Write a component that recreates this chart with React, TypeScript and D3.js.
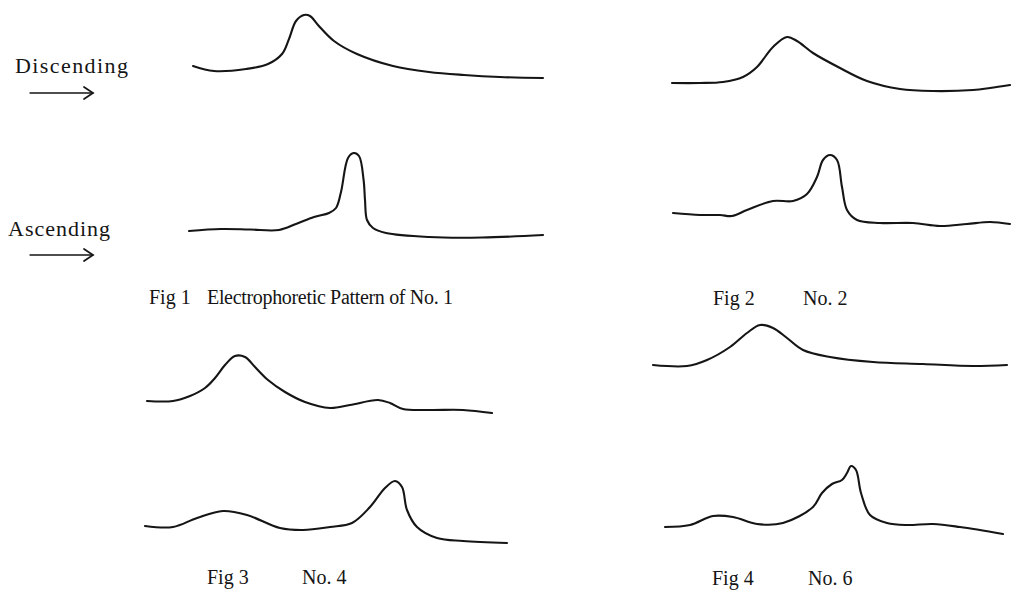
import React from 'react';
import * as d3 from 'd3';

// Migration distance (arbitrary units) and refractive-gradient deflection (arbitrary units)
const fig1DescPos = [8, 29, 61, 83, 97, 104, 111, 119, 125, 133, 149, 172, 208, 244, 279, 315, 358];
const fig1DescVal = [24, 19, 21, 26, 36, 51, 69, 75, 74, 65, 49, 36, 24, 18, 15, 13, 12];

const fig1AscPos = [4, 36, 65, 94, 111, 129, 144, 151, 156, 163, 168.6, 174, 178.6, 180, 182, 188, 201, 244, 297, 358];
const fig1AscVal = [17, 19, 18.5, 18, 24, 31, 35, 40, 56, 90, 95, 92, 68, 48, 28, 20, 15, 11, 10.5, 13];

const fig2DescPos = [7, 35, 58, 78, 92, 108, 122, 132, 148, 175, 202, 235, 268, 308, 325, 345];
const fig2DescVal = [12, 12, 13, 18, 28, 48, 58, 54, 42, 27, 14, 6, 4, 5, 7, 10];

const fig2AscPos = [8, 35, 55, 67, 82, 108, 128, 142, 152, 158, 165, 172, 177, 182, 192, 215, 248, 275, 302, 325, 345];
const fig2AscVal = [17, 15, 15, 14, 20, 29, 29, 36, 53, 70, 75, 70, 43, 20, 10, 7, 7, 4, 6, 8, 6];

const fig3DescPos = [7, 33, 50, 65, 75, 85, 95, 105, 115, 128, 145, 165, 190, 210, 238, 250, 263, 290, 323, 352];
const fig3DescVal = [19, 19, 24, 32, 42, 55, 64, 63, 53, 40, 28, 18, 12, 15, 20, 17, 11, 10, 10, 7];

const fig3AscPos = [5, 33, 57, 83, 107, 140, 163, 190, 212, 230, 245, 255, 262, 267, 277, 297, 323, 367];
const fig3AscVal = [24, 23, 32, 39, 35, 22, 20, 23, 27, 43, 62, 69, 63, 40, 23, 12, 9, 7];

const fig4DescPos = [3, 37, 57, 80, 97, 110, 123, 137, 153, 180, 223, 273, 323, 357];
const fig4DescVal = [10, 9, 15, 28, 42, 50, 47, 37, 25, 18, 13, 11, 9, 10];

const fig4AscPos = [15, 40, 63, 83, 107, 133, 163, 172, 182, 192, 197, 201, 206, 211, 220, 237, 257, 283, 310, 353];
const fig4AscVal = [18, 20, 29, 28, 21, 22, 38, 52, 61, 65, 72, 79, 75, 52, 30, 22, 20, 21, 18, 11];

const runLabels = ['Discending', 'Ascending'];
const captionFig = ['Fig 1', 'Fig 2', 'Fig 3', 'Fig 4'];
const captionNo = ['Electrophoretic Pattern of No. 1', 'No. 2', 'No. 4', 'No. 6'];

const panels = [
  { pos: fig1DescPos, val: fig1DescVal, left: 185, base: 90 },
  { pos: fig1AscPos, val: fig1AscVal, left: 185, base: 248 },
  { pos: fig2DescPos, val: fig2DescVal, left: 665, base: 95 },
  { pos: fig2AscPos, val: fig2AscVal, left: 665, base: 230 },
  { pos: fig3DescPos, val: fig3DescVal, left: 140, base: 420 },
  { pos: fig3AscPos, val: fig3AscVal, left: 140, base: 550 },
  { pos: fig4DescPos, val: fig4DescVal, left: 650, base: 375 },
  { pos: fig4AscPos, val: fig4AscVal, left: 650, base: 545 },
];

const captionLayout = [
  { fx: 149, nx: 207, nl: 246, y: 304 },
  { fx: 713, nx: 803, nl: 0, y: 305 },
  { fx: 207, nx: 302, nl: 0, y: 584 },
  { fx: 712, nx: 808, nl: 0, y: 585 },
];

const labelLayout = [
  { x: 15, y: 73, len: 113, arrowY: 93 },
  { x: 8, y: 236, len: 102, arrowY: 255 },
];

const INK = '#151515';
const SERIF = '"Liberation Serif", "DejaVu Serif", serif';

function Trace({ pos, val, left, base }: { pos: number[]; val: number[]; left: number; base: number }) {
  const x = d3.scaleLinear().domain([0, 360]).range([left, left + 360]);
  const y = d3.scaleLinear().domain([0, 100]).range([base, base - 100]);
  const pts = pos.map((p, i) => [p, val[i]] as [number, number]);
  const line = d3
    .line<[number, number]>()
    .x((d) => x(d[0]))
    .y((d) => y(d[1]))
    .curve(d3.curveCatmullRom.alpha(0.5));
  return <path d={line(pts) || ''} fill="none" stroke={INK} strokeWidth={2.1} strokeLinejoin="round" strokeLinecap="round" />;
}

function Arrow({ x0, x1, y }: { x0: number; x1: number; y: number }) {
  return (
    <g stroke={INK} fill="none" strokeLinecap="round">
      <line x1={x0} y1={y} x2={x1} y2={y} strokeWidth={1.3} />
      <path d={`M${x1 - 9},${y - 6} L${x1},${y} L${x1 - 9},${y + 6}`} strokeWidth={1.7} />
    </g>
  );
}

export default function App() {
  return (
    <svg
      width={1011}
      height={591}
      viewBox="0 0 1011 591"
      style={{ position: 'absolute', left: 0, top: 0, background: '#fff' }}
    >
      <rect x={0} y={0} width={1011} height={591} fill="#fff" />
      {panels.map((p, i) => (
        <Trace key={i} {...p} />
      ))}
      {runLabels.map((t, i) => (
        <g key={t}>
          <text
            x={labelLayout[i].x}
            y={labelLayout[i].y}
            fontFamily={SERIF}
            fontSize={22}
            fill={INK}
            textLength={labelLayout[i].len}
            lengthAdjust="spacing"
          >
            {t}
          </text>
          <Arrow x0={30} x1={93} y={labelLayout[i].arrowY} />
        </g>
      ))}
      {captionFig.map((t, i) => (
        <g key={t} fontFamily={SERIF} fontSize={20} fill={INK}>
          <text x={captionLayout[i].fx} y={captionLayout[i].y}>
            {t}
          </text>
          <text
            x={captionLayout[i].nx}
            y={captionLayout[i].y}
            {...(captionLayout[i].nl ? { textLength: captionLayout[i].nl, lengthAdjust: 'spacing' } : {})}
          >
            {captionNo[i]}
          </text>
        </g>
      ))}
    </svg>
  );
}
